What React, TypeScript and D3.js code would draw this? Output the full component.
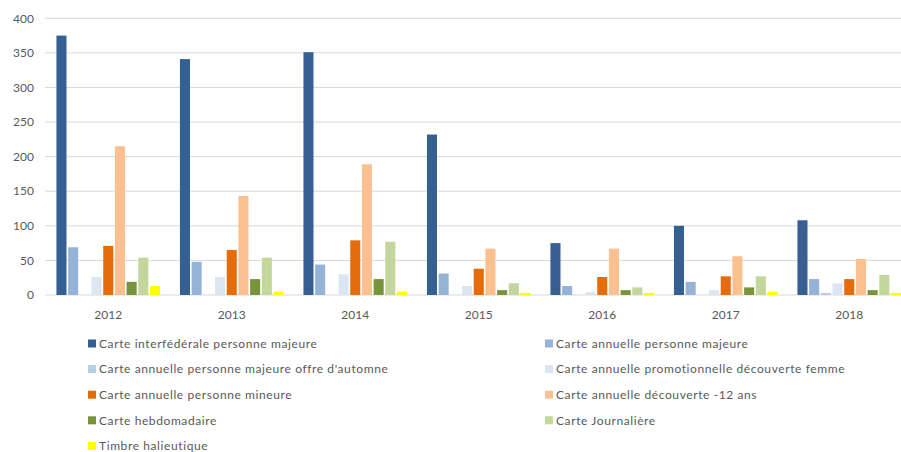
import React from "react";
import * as d3 from "d3";

const years = ["2012", "2013", "2014", "2015", "2016", "2017", "2018"];
const seriesNames = [
  "Carte interfédérale personne majeure",
  "Carte annuelle personne majeure",
  "Carte annuelle personne majeure offre d'automne",
  "Carte annuelle promotionnelle découverte femme",
  "Carte annuelle personne mineure",
  "Carte annuelle découverte -12 ans",
  "Carte hebdomadaire",
  "Carte Journalière",
  "Timbre halieutique",
];
const seriesColors = [
  "#376092",
  "#95B3D7",
  "#B9CDE5",
  "#DCE6F2",
  "#E46C0A",
  "#FAC090",
  "#77933C",
  "#C3D69B",
  "#FFFF00",
];
const interfederaleMajeure = [375, 341, 351, 232, 75, 100, 108];
const annuelleMajeure = [69, 48, 44, 31, 13, 19, 23];
const offreAutomne = [0, 0, 0, 0, 0, 0, 3];
const promoFemme = [26, 26, 30, 13, 4, 7, 17];
const annuelleMineure = [71, 65, 79, 38, 26, 27, 23];
const decouverte12 = [215, 143, 189, 67, 67, 56, 52];
const hebdomadaire = [19, 23, 23, 7, 7, 11, 7];
const journaliere = [54, 54, 77, 17, 11, 27, 29];
const timbre = [13, 5, 5, 3, 3, 5, 3];
const seriesValues = [
  interfederaleMajeure,
  annuelleMajeure,
  offreAutomne,
  promoFemme,
  annuelleMineure,
  decouverte12,
  hebdomadaire,
  journaliere,
  timbre,
];
const yTicks = [0, 50, 100, 150, 200, 250, 300, 350, 400];

const W = 901;
const H = 452;
const FONT = "Lato, 'Open Sans', sans-serif";
const TEXT = "#595959";

export default function App() {
  const x0 = d3.scaleBand<string>().domain(years).range([46.5, 911]).padding(0);
  const x1 = d3
    .scaleBand<number>()
    .domain(d3.range(seriesNames.length))
    .range([0, x0.bandwidth()])
    .paddingInner(0.14)
    .paddingOuter(0.85);
  const y = d3.scaleLinear().domain([0, 400]).range([295, 18.3]);

  const leftNames = seriesNames.map((n, i) => ({ n, i })).filter((d) => d.i % 2 === 0);
  const rightNames = seriesNames.map((n, i) => ({ n, i })).filter((d) => d.i % 2 === 1);
  const legendY0 = 343.5;
  const legendStep = 25.6;

  return (
    <svg
      width={W}
      height={H}
      style={{ position: "absolute", left: 0, top: 0, background: "#fff" }}
      fontFamily={FONT}
    >
      {yTicks.map((t) => (
        <g key={t}>
          <line x1={45} x2={W} y1={y(t)} y2={y(t)} stroke="#D9D9D9" strokeWidth={1} />
          <text x={34} y={y(t)} dy="0.35em" textAnchor="end" fontSize={12} fill={TEXT}>
            {t}
          </text>
        </g>
      ))}
      {years.map((yr, yi) => (
        <g key={yr} transform={`translate(${x0(yr)},0)`}>
          {seriesValues.map((vals, si) =>
            vals[yi] > 0 ? (
              <rect
                key={si}
                x={x1(si)}
                y={y(vals[yi])}
                width={x1.bandwidth()}
                height={y(0) - y(vals[yi])}
                fill={seriesColors[si]}
              />
            ) : null
          )}
          <text
            x={x0.bandwidth() / 2}
            y={315}
            dy="0.35em"
            textAnchor="middle"
            fontSize={12}
            fill={TEXT}
          >
            {yr}
          </text>
        </g>
      ))}
      {leftNames.map((d, k) => (
        <g key={d.n} transform={`translate(88,${legendY0 + k * legendStep})`}>
          <rect x={0} y={-4} width={8} height={8} fill={seriesColors[d.i]} />
          <text x={11} y={0} dy="0.35em" fontSize={12} fill={TEXT} letterSpacing={0.6}>
            {d.n}
          </text>
        </g>
      ))}
      {rightNames.map((d, k) => (
        <g key={d.n} transform={`translate(545,${legendY0 + k * legendStep})`}>
          <rect x={0} y={-4} width={8} height={8} fill={seriesColors[d.i]} />
          <text x={11} y={0} dy="0.35em" fontSize={12} fill={TEXT} letterSpacing={0.6}>
            {d.n}
          </text>
        </g>
      ))}
    </svg>
  );
}
